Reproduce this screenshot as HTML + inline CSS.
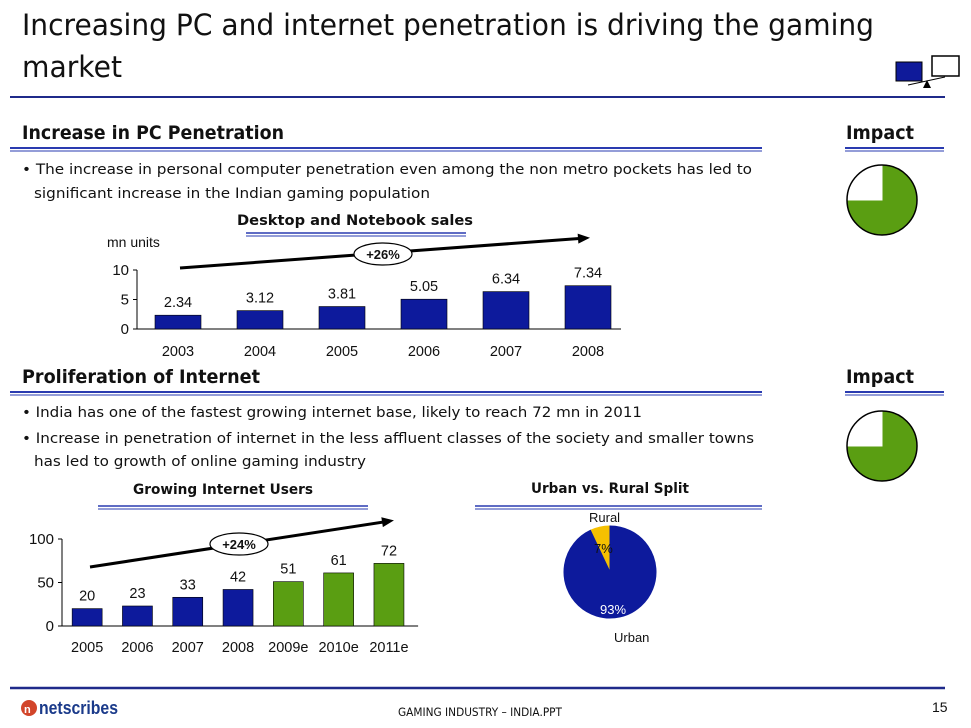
<!DOCTYPE html>
<html><head><meta charset="utf-8"><style>
body{margin:0;background:#fff;}
svg{display:block;font-family:"Liberation Sans",sans-serif;}
.c{font-family:"DejaVu Sans","Liberation Sans",sans-serif;}
</style></head><body>
<svg id="s" width="971" height="728" viewBox="0 0 971 728">
<g>
<text x="22" y="35" font-size="29" fill="#111" textLength="852" lengthAdjust="spacingAndGlyphs" class="c">Increasing PC and internet penetration is driving the gaming</text>
<text x="22" y="77" font-size="29" fill="#111" class="c" textLength="100" lengthAdjust="spacingAndGlyphs">market</text>
</g>
<g>
<rect x="896" y="62" width="26" height="19" fill="#0f1a9a" stroke="#000"/>
<rect x="932" y="56" width="27" height="20" fill="#fff" stroke="#000" stroke-width="1.5"/>
<line x1="908" y1="85" x2="945" y2="77" stroke="#000"/>
<polygon points="923,88 927,80 931,88" fill="#000"/>
</g>
<line x1="10" y1="97" x2="945" y2="97" stroke="#1f2a8a" stroke-width="2"/>

<text x="22" y="139" font-size="19" font-weight="bold" fill="#111" class="c" textLength="262" lengthAdjust="spacingAndGlyphs">Increase in PC Penetration</text>
<text x="846" y="139" font-size="19" font-weight="bold" fill="#111" class="c" textLength="68" lengthAdjust="spacingAndGlyphs">Impact</text>
<g stroke="#2a3bb0"><line x1="10" y1="148" x2="762" y2="148" stroke-width="2"/><line x1="10" y1="151" x2="762" y2="151"/>
<line x1="845" y1="148" x2="944" y2="148" stroke-width="2"/><line x1="845" y1="151" x2="944" y2="151"/></g>

<text x="22" y="174" font-size="14.5" fill="#111" class="c" textLength="730" lengthAdjust="spacingAndGlyphs">• The increase in personal computer penetration even among the non metro pockets has led to</text>
<text x="34" y="198" font-size="14.5" fill="#111" class="c" textLength="396" lengthAdjust="spacingAndGlyphs">significant increase in the Indian gaming population</text>

<g id="impact1"></g>

<text x="355" y="225" font-size="14.5" font-weight="bold" fill="#111" text-anchor="middle" class="c" textLength="236" lengthAdjust="spacingAndGlyphs">Desktop and Notebook sales</text>
<g stroke="#2a3bb0"><line x1="246" y1="233" x2="466" y2="233" stroke-width="1.5"/><line x1="246" y1="236" x2="466" y2="236"/></g>
<text x="107" y="247" font-size="14" fill="#111">mn units</text>
<g id="pc"></g>

<text x="22" y="383" font-size="19" font-weight="bold" fill="#111" class="c" textLength="238" lengthAdjust="spacingAndGlyphs">Proliferation of Internet</text>
<text x="846" y="383" font-size="19" font-weight="bold" fill="#111" class="c" textLength="68" lengthAdjust="spacingAndGlyphs">Impact</text>
<g stroke="#2a3bb0"><line x1="10" y1="392" x2="762" y2="392" stroke-width="2"/><line x1="10" y1="395" x2="762" y2="395"/>
<line x1="845" y1="392" x2="944" y2="392" stroke-width="2"/><line x1="845" y1="395" x2="944" y2="395"/></g>
<text x="22" y="417" font-size="14.5" fill="#111" class="c" textLength="620" lengthAdjust="spacingAndGlyphs">• India has one of the fastest growing internet base, likely to reach 72 mn in 2011</text>
<text x="22" y="443" font-size="14.5" fill="#111" class="c" textLength="732" lengthAdjust="spacingAndGlyphs">• Increase in penetration of internet in the less affluent classes of the society and smaller towns</text>
<text x="34" y="466" font-size="14.5" fill="#111" class="c" textLength="332" lengthAdjust="spacingAndGlyphs">has led to growth of online gaming industry</text>

<g id="impact2"></g>

<text x="223" y="494" font-size="14.5" font-weight="bold" fill="#111" text-anchor="middle" class="c" textLength="180" lengthAdjust="spacingAndGlyphs">Growing Internet Users</text>
<g stroke="#2a3bb0"><line x1="98" y1="506" x2="368" y2="506" stroke-width="1.5"/><line x1="98" y1="509" x2="368" y2="509"/></g>
<text x="610" y="493" font-size="14.5" font-weight="bold" fill="#111" text-anchor="middle" class="c" textLength="158" lengthAdjust="spacingAndGlyphs">Urban vs. Rural Split</text>
<g stroke="#2a3bb0"><line x1="475" y1="506" x2="762" y2="506" stroke-width="1.5"/><line x1="475" y1="509" x2="762" y2="509"/></g>
<g id="users"></g>
<g id="split"></g>

<line x1="10" y1="688" x2="945" y2="688" stroke="#1f2a8a" stroke-width="2.5"/>
<g>
<circle cx="29" cy="708" r="8" fill="#d2452a"/>
<text x="24" y="713" font-size="11" fill="#fff" font-weight="bold">n</text>
<text x="39" y="714" font-size="18" font-weight="bold" fill="#1a3a8a" textLength="79" lengthAdjust="spacingAndGlyphs">netscribes</text>
</g>
<text x="398" y="716" font-size="11.5" fill="#111" class="c" textLength="164" lengthAdjust="spacingAndGlyphs">GAMING INDUSTRY – INDIA.PPT</text>
<text x="932" y="712" font-size="14" fill="#111">15</text>
</svg>
<script>
const NS="http://www.w3.org/2000/svg";
const pcYears=["2003","2004","2005","2006","2007","2008"];
const pcValues=[2.34,3.12,3.81,5.05,6.34,7.34];
const pcTicks=[0,5,10];
const userYears=["2005","2006","2007","2008","2009e","2010e","2011e"];
const userValues=[20,23,33,42,51,61,72];
const userEstimated=[false,false,false,false,true,true,true];
const userTicks=[0,50,100];
const splitLabels=["Rural","Urban"];
const splitValues=[7,93];
const impactShare=[75,75];

function el(tag,attrs,parent,txt){const e=document.createElementNS(NS,tag);for(const k in attrs)e.setAttribute(k,attrs[k]);if(txt!==undefined)e.textContent=txt;parent.appendChild(e);return e;}

function barChart(g,cats,vals,ticks,o){
  const y=v=>o.y0-(v-ticks[0])/(ticks[ticks.length-1]-ticks[0])*o.h;
  const x=i=>o.x0+o.band*(i+0.5);
  el('line',{x1:o.x0,y1:y(ticks[0]),x2:o.x0+o.band*cats.length+o.extra,y2:y(ticks[0]),stroke:'#000'},g);
  el('line',{x1:o.x0,y1:y(ticks[0]),x2:o.x0,y2:y(ticks[ticks.length-1]),stroke:'#000'},g);
  ticks.forEach(t=>{
    el('line',{x1:o.x0-4,y1:y(t),x2:o.x0,y2:y(t),stroke:'#000'},g);
    const tt=el('text',{x:o.x0-8,y:y(t)+5,'font-size':15,'text-anchor':'end',fill:'#111'},g,String(t));
    
    
  });
  cats.forEach((c,i)=>{
    const r=el('rect',{x:x(i)-o.bw/2,y:y(vals[i]),width:o.bw,height:y(0)-y(vals[i]),fill:o.color(i),stroke:'#000','stroke-width':0.6},g);
    
    
    const v=el('text',{x:x(i),y:y(vals[i])-o.gap,'font-size':14.5,'text-anchor':'middle',fill:'#111'},g,String(vals[i]));
    
    
    const l=el('text',{x:x(i),y:y(0)+o.ly,'font-size':14.5,'text-anchor':'middle',fill:'#111'},g,c);
    
    
  });
}
function growth(g,x1,y1,x2,y2,cx,cy,label){
  const ln=el('line',{x1,y1,x2,y2,stroke:'#000','stroke-width':3},g);
  
  
  const a=Math.atan2(y2-y1,x2-x1);
  const p=[[x2+4*Math.cos(a),y2+4*Math.sin(a)],[x2-8*Math.cos(a)+5*Math.sin(a),y2-8*Math.sin(a)-5*Math.cos(a)],[x2-8*Math.cos(a)-5*Math.sin(a),y2-8*Math.sin(a)+5*Math.cos(a)]];
  el('polygon',{points:p.map(q=>q.join(',')).join(' '),fill:'#000'},g);
  const e=el('ellipse',{cx,cy,rx:29,ry:11,fill:'#fff',stroke:'#000','stroke-width':1.2},g);
  
  
  el('text',{x:cx,y:cy+5,'font-size':13,'font-weight':'bold','text-anchor':'middle',fill:'#111'},g,label);
}
const pc=document.getElementById('pc');
barChart(pc,pcYears,pcValues,pcTicks,{x0:137,y0:329,h:59,band:82,bw:46,extra:-8,gap:8,ly:27,color:()=>'#0d1a9c'});
growth(pc,180,268,586,238,383,254,'+26%');
const us=document.getElementById('users');
barChart(us,userYears,userValues,userTicks,{x0:62,y0:626,h:87,band:50.3,bw:30,extra:4,gap:8,ly:26,color:i=>userEstimated[i]?'#5a9e12':'#0d1a9c'});
growth(us,90,567,390,521,239,544,'+24%');

function pie(g,cx,cy,r,vals,colors,startDeg,dir){
  const tot=vals.reduce((a,b)=>a+b,0);let ang=startDeg;
  vals.forEach((v,i)=>{
    const sweep=v/tot*360*dir;const a0=ang*Math.PI/180,a1=(ang+sweep)*Math.PI/180;
    const large=Math.abs(sweep)>180?1:0;
    const p=el('path',{d:`M${cx},${cy} L${cx+r*Math.cos(a0)},${cy+r*Math.sin(a0)} A${r},${r} 0 ${large} ${dir>0?1:0} ${cx+r*Math.cos(a1)},${cy+r*Math.sin(a1)} Z`,fill:colors[i],stroke:colors[i]},g);
    
    
    ang+=sweep;
  });
}
const sp=document.getElementById('split');
pie(sp,610,572,46,splitValues,['#f5c000','#0d1a9c'],-90,-1);
el('text',{x:589,y:522,'font-size':13,fill:'#111'},sp,splitLabels[0]);
el('text',{x:594,y:553,'font-size':13,fill:'#111'},sp,splitValues[0]+'%');
el('text',{x:600,y:614,'font-size':13,fill:'#fff'},sp,splitValues[1]+'%');
el('text',{x:614,y:642,'font-size':13,fill:'#111'},sp,splitLabels[1]);

[['impact1',200],['impact2',446]].forEach(([id,cy],k)=>{
  const g=document.getElementById(id);
  pie(g,882,cy,35,[impactShare[k],100-impactShare[k]],['#5a9e12','#fff'],-90,1);
  el('circle',{cx:882,cy,r:35,fill:'none',stroke:'#000','stroke-width':1.5},g);
});
</script>
</body></html>
